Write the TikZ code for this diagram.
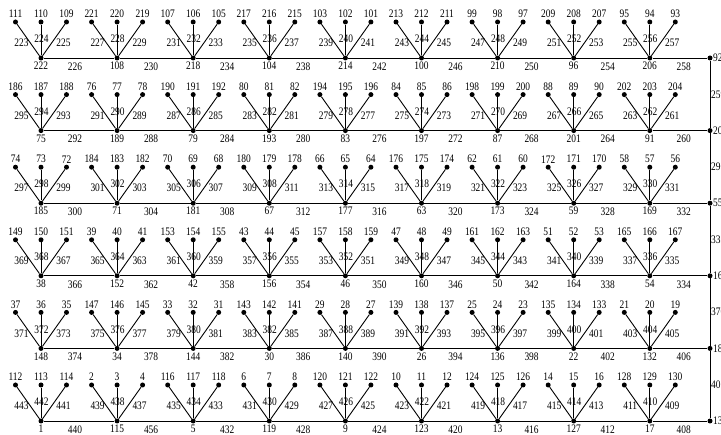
\documentclass[tikz,border=0pt]{standalone}
\usepackage{fontspec}
\setmainfont{Liberation Serif}
\newcommand{\sq}[1]{\scalebox{0.82}[1]{#1}}
\tikzset{
  dot/.style={circle,fill=black,inner sep=0pt,minimum size=5pt},
  lb/.style={inner sep=0pt,font=\fontsize{11.5}{12}\selectfont},
  ln/.style={line width=0.9pt,black}
}
\newcommand{\drawrow}[4]{%
  \node[dot] (R#1) at (710,#2) {};
  \node[lb,anchor=west] at (713,#2) {\sq{#3}};
  \foreach \vh/\va/\vb/\vc/\ep/\eq/\er/\es [count=\i from 0] in {#4} {
    \pgfmathsetmacro\hx{41+76.1*\i}
    \node[dot] (h#1-\i) at (\hx,#2) {};
    \node[dot] (la#1-\i) at (\hx-25.5,#2-36) {};
    \node[dot] (lb#1-\i) at (\hx,#2-36) {};
    \node[dot] (lc#1-\i) at (\hx+25.5,#2-36) {};
    \draw[ln] (la#1-\i) -- (h#1-\i);
    \draw[ln] (lb#1-\i) -- (h#1-\i);
    \draw[ln] (lc#1-\i) -- (h#1-\i);
    \node[lb] at (\hx-25.5,#2-44) {\sq{\va}};
    \node[lb] at (\hx,#2-44) {\sq{\vb}};
    \node[lb] at (\hx+25.5,#2-44) {\sq{\vc}};
    \node[lb] at (\hx-19.5,#2-15) {\sq{\ep}};
    \node[lb] at (\hx+0.5,#2-19) {\sq{\eq}};
    \node[lb] at (\hx+22.5,#2-15) {\sq{\er}};
    \node[lb] at (\hx,#2+8) {\sq{\vh}};
    \node[lb] at (\hx+34,#2+8.5) {\sq{\es}};
  }
  \foreach \i [evaluate=\i as \j using int(\i+1)] in {0,...,7} {
    \draw[ln] (h#1-\i) -- (h#1-\j);
  }
  \draw[ln] (h#1-8) -- (R#1);
}
\begin{document}
\begin{tikzpicture}[x=1pt,y=-1pt]
\useasboundingbox (0,0) rectangle (721,435);
\fill[white] (0,0) rectangle (721,435);
\drawrow{0}{58}{92}{222/111/110/109/223/224/225/226,
108/221/220/219/227/228/229/230,
218/107/106/105/231/232/233/234,
104/217/216/215/235/236/237/238,
214/103/102/101/239/240/241/242,
100/213/212/211/243/244/245/246,
210/99/98/97/247/248/249/250,
96/209/208/207/251/252/253/254,
206/95/94/93/255/256/257/258}
\drawrow{1}{130.6}{20}{75/186/187/188/295/294/293/292,
189/76/77/78/291/290/289/288,
79/190/191/192/287/286/285/284,
193/80/81/82/283/282/281/280,
83/194/195/196/279/278/277/276,
197/84/85/86/275/274/273/272,
87/198/199/200/271/270/269/268,
201/88/89/90/267/266/265/264,
91/202/203/204/263/262/261/260}
\drawrow{2}{203.2}{55}{185/74/73/72/297/298/299/300,
71/184/183/182/301/302/303/304,
181/70/69/68/305/306/307/308,
67/180/179/178/309/308/311/312,
177/66/65/64/313/314/315/316,
63/176/175/174/317/318/319/320,
173/62/61/60/321/322/323/324,
59/172/171/170/325/326/327/328,
169/58/57/56/329/330/331/332}
\drawrow{3}{275.8}{16}{38/149/150/151/369/368/367/366,
152/39/40/41/365/364/363/362,
42/153/154/155/361/360/359/358,
156/43/44/45/357/356/355/354,
46/157/158/159/353/352/351/350,
160/47/48/49/349/348/347/346,
50/161/162/163/345/344/343/342,
164/51/52/53/341/340/339/338,
54/165/166/167/337/336/335/334}
\drawrow{4}{348.4}{18}{148/37/36/35/371/372/373/374,
34/147/146/145/375/376/377/378,
144/33/32/31/379/380/381/382,
30/143/142/141/383/382/385/386,
140/29/28/27/387/388/389/390,
26/139/138/137/391/392/393/394,
136/25/24/23/395/396/397/398,
22/135/134/133/399/400/401/402,
132/21/20/19/403/404/405/406}
\drawrow{5}{421}{13}{1/112/113/114/443/442/441/440,
115/2/3/4/439/438/437/456,
5/116/117/118/435/434/433/432,
119/6/7/8/431/430/429/428,
9/120/121/122/427/426/425/424,
123/10/11/12/423/422/421/420,
13/124/125/126/419/418/417/416,
127/14/15/16/415/414/413/412,
17/128/129/130/411/410/409/408}
\draw[ln] (R0) -- (R1) -- (R2) -- (R3) -- (R4) -- (R5);
\node[lb,anchor=west] at (711,94.3) {\sq{259}};
\node[lb,anchor=west] at (711,166.9) {\sq{296}};
\node[lb,anchor=west] at (711,239.5) {\sq{333}};
\node[lb,anchor=west] at (711,312.1) {\sq{370}};
\node[lb,anchor=west] at (711,384.7) {\sq{407}};
\end{tikzpicture}
\end{document}
